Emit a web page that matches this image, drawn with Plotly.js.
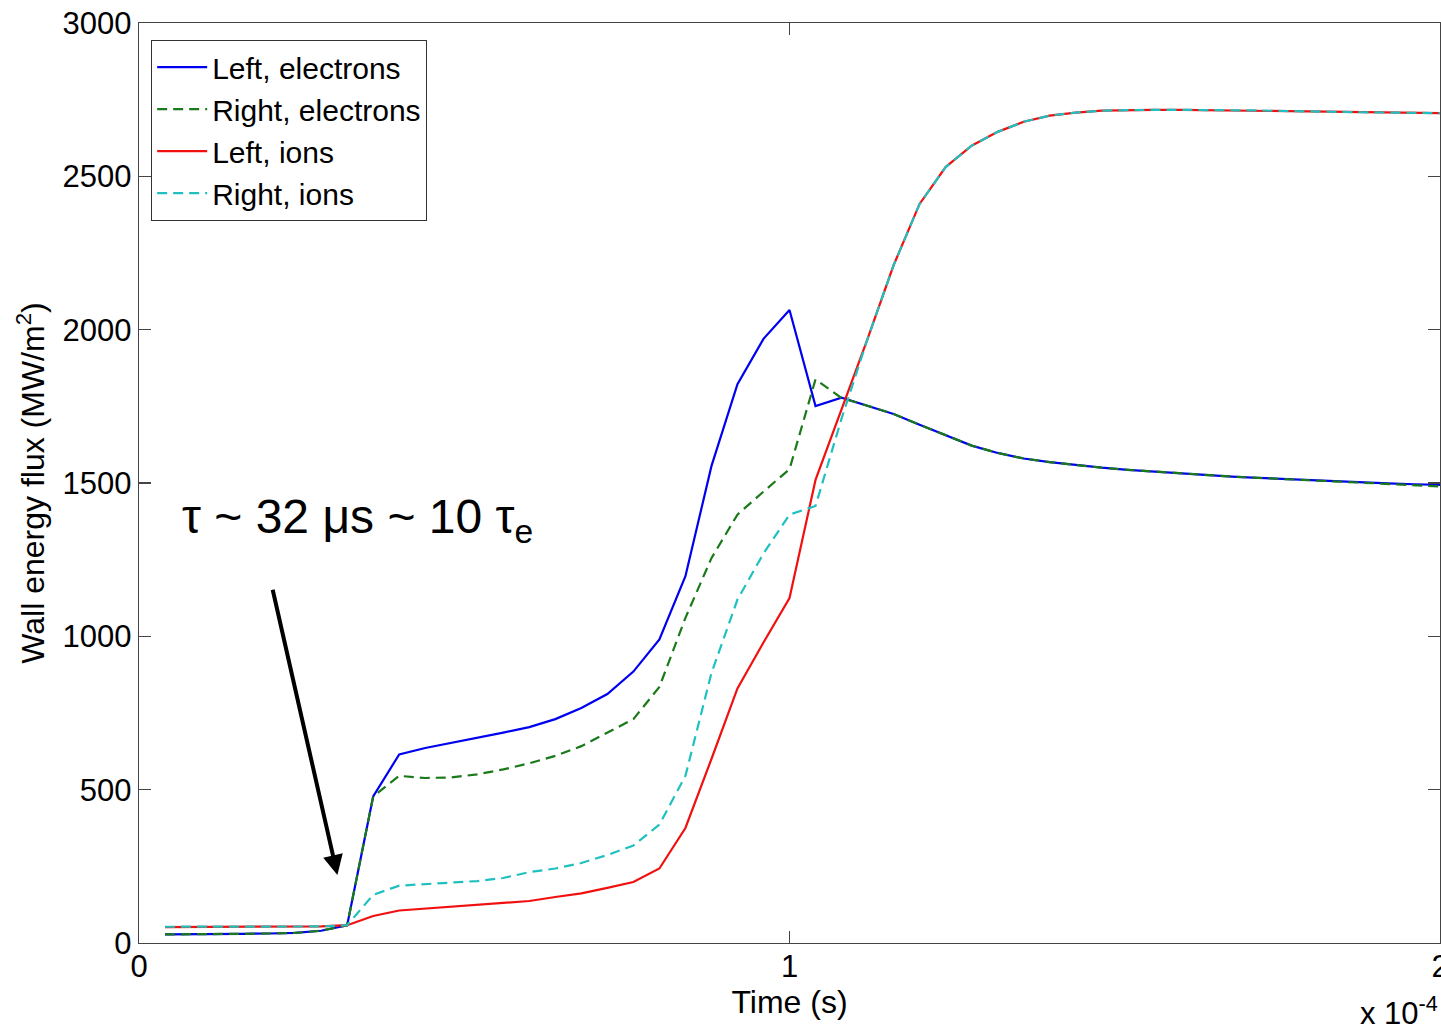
<!DOCTYPE html>
<html>
<head>
<meta charset="utf-8">
<script src="https://cdn.plot.ly/plotly-3.0.1.min.js"></script>
<style>html,body{margin:0;padding:0;background:#fff;}#chart{width:1441px;height:1032px;}</style>
</head>
<body>
<div id="chart"></div>
<script>
// Time (s)
const time = [4e-6, 8e-6, 12e-6, 16e-6, 20e-6, 24e-6, 28e-6, 32e-6, 36e-6, 40e-6,
  44e-6, 48e-6, 52e-6, 56e-6, 60e-6, 64e-6, 68e-6, 72e-6, 76e-6, 80e-6,
  84e-6, 88e-6, 92e-6, 96e-6, 100e-6, 104e-6, 108e-6, 112e-6, 116e-6, 120e-6,
  124e-6, 128e-6, 132e-6, 136e-6, 140e-6, 144e-6, 148e-6, 152e-6, 156e-6, 160e-6,
  164e-6, 168e-6, 172e-6, 176e-6, 180e-6, 184e-6, 188e-6, 192e-6, 196e-6, 200e-6];

// Wall energy flux (MW/m^2)
const leftElectrons = [28, 28, 29, 30, 31, 33, 40, 58, 478, 615,
  636, 652, 668, 686, 704, 730, 766, 812, 885, 990,
  1196, 1555, 1822, 1970, 2064, 1751, 1778, 1752, 1725, 1690,
  1655, 1622, 1598, 1580, 1568, 1558, 1550, 1543, 1537, 1531,
  1526, 1521, 1517, 1513, 1509, 1505, 1502, 1499, 1496, 1494];

const rightElectrons = [28, 28, 29, 30, 31, 33, 40, 58, 478, 545,
  538, 540, 550, 566, 586, 610, 642, 686, 730, 835,
  1060, 1255, 1397, 1472, 1545, 1838, 1777, 1752, 1725, 1690,
  1655, 1622, 1598, 1580, 1568, 1558, 1550, 1543, 1537, 1531,
  1526, 1521, 1517, 1513, 1508, 1504, 1500, 1496, 1492, 1489];

const leftIons = [52, 52, 52, 52, 52, 53, 54, 58, 88, 106,
  112, 118, 123, 130, 137, 150, 162, 180, 199, 243,
  375, 600, 830, 980, 1125, 1510, 1740, 1970, 2210, 2410,
  2530, 2600, 2645, 2678, 2698, 2708, 2714, 2716, 2717, 2717,
  2716, 2716, 2715, 2713, 2711, 2710, 2709, 2708, 2707, 2706];

const rightIons = [53, 53, 53, 53, 53, 53, 54, 58, 157, 187,
  192, 197, 202, 212, 231, 243, 261, 287, 318, 386,
  545, 880, 1120, 1270, 1397, 1425, 1710, 1970, 2210, 2410,
  2530, 2600, 2645, 2678, 2698, 2708, 2714, 2716, 2717, 2717,
  2716, 2716, 2715, 2713, 2711, 2710, 2709, 2708, 2707, 2706];

const seriesNames = ['Left, electrons', 'Right, electrons', 'Left, ions', 'Right, ions'];
const xTickVals = [0, 1e-4, 2e-4];
const xTickText = ['0', '1', '2'];
const yTickVals = [0, 500, 1000, 1500, 2000, 2500, 3000];

const FONT = 'Liberation Sans, Arial, Helvetica, sans-serif';

const traces = [
  {x: time, y: leftElectrons, name: seriesNames[0], mode: 'lines',
   line: {color: '#0000f0', width: 2.2}},
  {x: time, y: rightElectrons, name: seriesNames[1], mode: 'lines',
   line: {color: '#1a7a1a', width: 2.2, dash: '10px,6px'}},
  {x: time, y: leftIons, name: seriesNames[2], mode: 'lines',
   line: {color: '#f01010', width: 2.2}},
  {x: time, y: rightIons, name: seriesNames[3], mode: 'lines',
   line: {color: '#20c0c0', width: 2.2, dash: '10px,6px'}}
];

const layout = {
  width: 1441, height: 1032,
  margin: {l: 139, r: 1, t: 23, b: 89},
  paper_bgcolor: '#fff', plot_bgcolor: '#fff',
  font: {family: FONT, size: 31, color: '#000'},
  showlegend: true,
  legend: {
    x: 0.0092, y: 0.9815, xanchor: 'left', yanchor: 'top',
    bgcolor: '#fff', bordercolor: '#333', borderwidth: 1.2,
    font: {family: FONT, size: 30, color: '#000'},
    itemwidth: 50, tracegroupgap: 0
  },
  xaxis: {
    range: [0, 2e-4], tickvals: xTickVals, ticktext: xTickText,
    showline: true, mirror: 'ticks', linecolor: '#444', linewidth: 1.3,
    ticks: 'inside', ticklen: 12, tickcolor: '#444', tickwidth: 1.3,
    showgrid: false, zeroline: false, automargin: false,
    ticklabeloverflow: 'allow', ticklabelstandoff: -5,
    tickfont: {family: FONT, size: 31, color: '#000'},
    title: {text: 'Time (s)', font: {family: FONT, size: 32, color: '#000'}, standoff: 0}
  },
  yaxis: {
    range: [0, 3000], tickvals: yTickVals,
    showline: true, mirror: 'ticks', linecolor: '#444', linewidth: 1.3,
    ticks: 'inside', ticklen: 12, tickcolor: '#444', tickwidth: 1.3,
    showgrid: false, zeroline: false, automargin: false,
    tickfont: {family: FONT, size: 31, color: '#000'},
    title: {text: 'Wall energy flux (MW/m<sup>2</sup>)', font: {family: FONT, size: 32, color: '#000'}, standoff: 8}
  },
  annotations: [
    {x: 6.3e-6, y: 1380, xref: 'x', yref: 'y', xanchor: 'left', yanchor: 'middle',
     text: '\u03c4 ~ 32 \u03bcs ~ 10 \u03c4<sub>e</sub>', showarrow: false,
     font: {family: FONT, size: 48, color: '#000'}},
    {x: 3.05e-5, y: 222, ax: 2.05e-5, ay: 1157, xref: 'x', yref: 'y', axref: 'x', ayref: 'y',
     text: '', showarrow: true, arrowhead: 2, arrowsize: 1, arrowwidth: 4, arrowcolor: '#000', standoff: 0},
    {x: 1, y: -0.074, xref: 'paper', yref: 'paper', xanchor: 'right', yanchor: 'middle',
     text: 'x 10<sup>-4</sup>', showarrow: false,
     font: {family: FONT, size: 31, color: '#000'}}
  ]
};

Plotly.newPlot('chart', traces, layout, {displayModeBar: false, staticPlot: true});
</script>
</body>
</html>
